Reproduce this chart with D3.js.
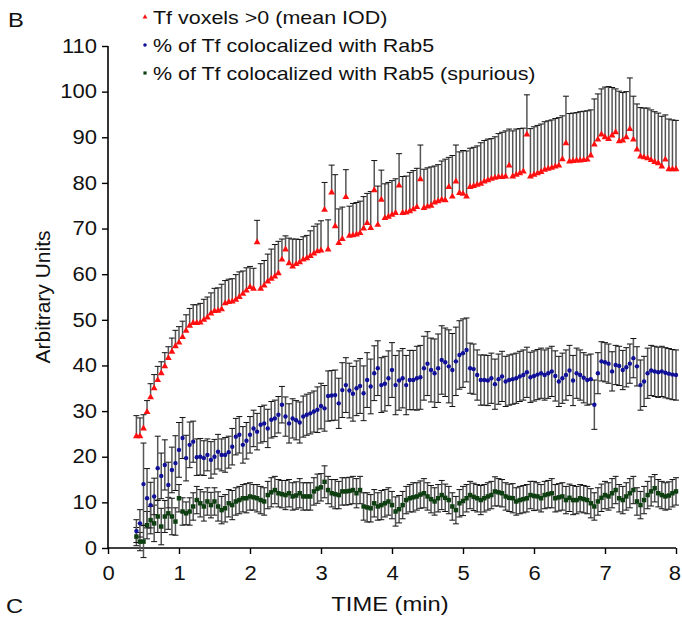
<!DOCTYPE html>
<html>
<head>
<meta charset="utf-8">
<script src="https://cdn.jsdelivr.net/npm/d3@7"></script>
<style>
  body { margin: 0; background: #fff; }
  svg { font-family: 'Liberation Sans', Arial, sans-serif; }
</style>
</head>
<body>
<div id="chart"></div>
<script>
// sampling: one frame every 0.05 min from 0.4 to 8 min
const tStart = 0.4
const tStep = 0.05

const xTicks = [0, 1, 2, 3, 4, 5, 6, 7, 8]
const yTicks = [0, 10, 20, 30, 40, 50, 60, 70, 80, 90, 100, 110]

const seriesNames = [
    'Tf voxels >0 (mean IOD)',
    '% of Tf colocalized with Rab5',
    '% of Tf colocalized with Rab5 (spurious)'
]

// Tf voxels >0 (mean IOD), upper error only
const tfMean = [
    24.5, 24.5, 26.2, 29.8, 33.0, 35.0, 36.8, 38.3, 39.8, 41.6,
    43.0, 44.2, 45.0, 46.2, 47.6, 48.7, 49.3, 49.3, 49.4, 50.0,
    50.5, 51.4, 51.9, 52.0, 52.3, 53.6, 53.9, 54.0, 54.4, 55.0,
    55.7, 56.4, 57.2, 56.8, 67.0, 56.8, 57.5, 58.4, 59.0, 59.5,
    60.2, 63.2, 65.4, 62.4, 61.7, 62.2, 62.6, 63.2, 63.5, 64.0,
    64.5, 65.0, 65.2, 74.1, 65.4, 77.9, 70.5, 66.8, 67.7, 76.9,
    68.4, 68.5, 68.7, 69.0, 70.0, 71.2, 70.1, 78.4, 70.8, 76.3,
    72.3, 72.6, 73.0, 73.4, 79.4, 73.4, 73.5, 73.8, 74.2, 74.7,
    80.8, 74.5, 74.8, 75.0, 75.7, 76.0, 76.3, 76.2, 79.1, 77.0,
    80.3, 77.8, 77.6, 77.0, 79.1, 79.3, 79.6, 79.8, 80.3, 80.6,
    80.9, 81.1, 81.3, 81.3, 81.4, 83.8, 81.4, 81.8, 82.1, 82.5,
    90.6, 81.4, 81.8, 82.1, 82.4, 82.9, 83.1, 83.3, 83.6, 83.8,
    85.2, 88.7, 84.7, 84.8, 84.9, 84.9, 85.0, 85.1, 86.0, 88.4,
    89.5, 90.6, 90.0, 89.6, 90.4, 91.1, 89.1, 89.3, 90.0, 91.8,
    89.5, 87.3, 85.8, 85.6, 85.4, 85.0, 84.6, 84.3, 83.6, 85.1,
    83.0, 83.0, 83.0
]
const tfErr = [
    4.5, 4.0, 3.0, 2.5, 3.0, 3.0, 3.0, 2.5, 3.0, 2.5,
    3.0, 3.5, 3.5, 3.5, 3.5, 3.8, 4.0, 4.0, 4.2, 4.5,
    4.5, 4.5, 5.0, 5.0, 5.5, 5.0, 5.0, 5.0, 5.5, 5.5,
    5.0, 5.0, 4.5, 4.5, 4.8, 5.5, 5.5, 6.0, 6.5, 7.0,
    7.0, 4.5, 3.0, 5.5, 6.0, 5.5, 5.0, 5.0, 5.0, 5.5,
    6.0, 6.0, 6.5, 6.0, 6.5, 6.0, 11.3, 7.5, 7.0, 6.0,
    6.5, 7.0, 7.0, 7.0, 7.0, 6.5, 8.0, 6.5, 8.5, 6.5,
    7.5, 7.5, 7.5, 7.5, 7.0, 8.0, 8.0, 8.5, 8.5, 8.5,
    7.5, 8.5, 8.5, 8.5, 8.0, 8.0, 8.5, 9.0, 6.5, 9.0,
    8.0, 9.0, 9.5, 10.0, 8.5, 8.5, 8.5, 9.0, 9.0, 9.0,
    8.8, 9.0, 9.5, 9.8, 10.0, 8.0, 10.0, 10.0, 9.8, 9.5,
    8.7, 10.5, 10.5, 10.5, 10.5, 10.5, 10.5, 10.5, 10.5, 10.5,
    9.5, 10.3, 10.5, 10.5, 10.5, 10.7, 10.7, 10.7, 10.0, 10.0,
    10.0, 10.0, 11.0, 11.5, 10.5, 9.5, 11.0, 10.5, 10.0, 11.2,
    9.5, 10.0, 10.7, 10.8, 11.0, 11.0, 11.0, 11.0, 11.0, 9.8,
    11.0, 10.8, 10.7
]

// % of Tf colocalized with Rab5
const rabMean = [
    3.7, 5.4, 14.0, 10.9, 9.4, 11.3, 17.5, 15.8, 18.2, 13.8,
    17.1, 18.6, 21.5, 24.1, 19.7, 22.6, 23.3, 19.9, 20.0, 19.7,
    20.4, 19.3, 20.0, 21.1, 20.4, 20.4, 21.0, 22.2, 24.4, 24.8,
    22.6, 23.5, 24.8, 26.2, 25.5, 27.0, 27.3, 26.2, 28.1, 28.4,
    29.2, 31.4, 28.8, 27.3, 28.4, 28.0, 27.5, 28.8, 29.2, 29.5,
    29.9, 30.3, 31.1, 30.6, 33.3, 33.4, 33.5, 31.7, 34.6, 35.7,
    34.5, 33.8, 35.0, 35.5, 33.9, 36.8, 35.4, 38.3, 39.4, 35.7,
    36.0, 37.2, 39.0, 35.7, 36.7, 37.2, 35.7, 36.8, 36.8, 37.2,
    37.4, 39.4, 40.4, 39.0, 38.3, 39.4, 41.2, 40.7, 39.8, 39.0,
    40.9, 42.3, 42.7, 43.4, 39.4, 39.2, 37.9, 36.8, 36.8, 36.7,
    37.2, 35.9, 37.0, 37.6, 36.5, 36.8, 37.0, 37.2, 37.6, 37.9,
    38.5, 37.4, 37.7, 38.0, 38.3, 37.9, 38.3, 38.7, 37.7, 36.5,
    37.2, 37.9, 38.9, 36.7, 38.3, 37.9, 37.3, 36.8, 37.0, 31.4,
    38.3, 40.9, 40.7, 40.4, 38.7, 40.1, 39.9, 39.0, 39.6, 40.4,
    41.6, 39.8, 35.7, 36.5, 38.3, 38.9, 38.7, 38.5, 38.7, 38.4,
    38.2, 38.0, 37.9
]
const rabErr = [
    2.5, 3.0, 9.0, 6.5, 5.0, 4.0, 7.0, 5.0, 5.5, 5.0,
    5.0, 6.0, 6.0, 4.5, 5.0, 5.0, 4.5, 4.0, 4.0, 3.8,
    3.5, 4.0, 3.8, 3.8, 3.5, 3.8, 3.5, 4.0, 4.0, 4.0,
    4.0, 4.0, 4.0, 4.0, 4.0, 4.0, 4.0, 4.2, 4.0, 4.0,
    4.0, 4.0, 4.3, 4.3, 4.3, 4.3, 4.5, 4.5, 4.5, 4.5,
    4.5, 5.0, 5.0, 5.0, 5.5, 5.5, 5.5, 5.5, 6.0, 6.0,
    6.0, 6.0, 6.0, 6.0, 6.0, 6.0, 6.0, 6.0, 6.0, 6.0,
    6.0, 6.0, 6.0, 6.5, 6.5, 6.5, 6.5, 6.5, 6.5, 7.0,
    7.0, 7.0, 7.0, 7.0, 7.5, 7.5, 7.5, 7.5, 8.0, 8.0,
    7.5, 7.5, 7.5, 7.0, 5.5, 5.5, 5.5, 5.5, 5.5, 5.5,
    5.5, 5.5, 5.5, 5.5, 5.5, 5.5, 5.5, 5.5, 5.5, 5.5,
    5.5, 5.5, 5.5, 5.5, 5.5, 5.5, 5.5, 5.5, 5.5, 5.5,
    5.5, 5.5, 5.5, 5.5, 5.5, 5.5, 5.5, 5.5, 5.5, 5.4,
    4.5, 4.3, 4.3, 4.3, 4.3, 4.3, 4.3, 4.3, 4.3, 4.3,
    4.3, 4.3, 5.5, 5.5, 5.5, 5.5, 5.5, 5.5, 5.5, 5.5,
    5.5, 5.5, 5.5
]

// % of Tf colocalized with Rab5 (spurious)
const spurMean = [
    2.5, 1.4, 1.4, 5.0, 6.1, 5.4, 6.9, 4.7, 6.9, 7.6,
    6.9, 5.8, 10.9, 8.0, 7.6, 8.0, 9.1, 10.5, 9.8, 9.1,
    10.2, 9.4, 10.2, 9.1, 8.3, 8.7, 9.8, 9.4, 10.2, 10.5,
    10.9, 10.9, 11.3, 11.1, 10.9, 10.5, 10.2, 11.6, 12.2, 12.7,
    12.0, 11.8, 11.6, 12.0, 11.3, 11.5, 12.0, 11.3, 11.3, 11.3,
    12.4, 13.0, 13.3, 14.5, 12.7, 12.0, 11.8, 11.6, 12.4, 12.4,
    12.5, 12.7, 12.0, 12.7, 9.1, 8.9, 8.7, 9.8, 9.1, 9.4,
    9.8, 10.2, 9.4, 8.0, 8.5, 9.4, 10.5, 10.9, 11.1, 11.3,
    11.7, 12.0, 11.3, 10.7, 10.2, 10.9, 11.6, 11.0, 10.5, 9.1,
    8.3, 9.8, 10.3, 10.9, 11.6, 11.2, 10.9, 10.5, 10.9, 11.3,
    11.6, 12.4, 12.2, 12.0, 11.3, 11.0, 10.9, 10.2, 10.5, 10.7,
    10.9, 11.6, 11.4, 11.3, 10.9, 11.6, 11.8, 12.0, 10.9, 11.1,
    11.3, 10.5, 11.0, 10.5, 10.5, 10.9, 10.7, 10.5, 9.8, 9.1,
    10.2, 11.0, 11.6, 11.3, 12.0, 12.7, 10.9, 10.5, 11.3, 12.0,
    12.7, 10.2, 9.4, 10.5, 11.6, 12.4, 13.1, 12.0, 11.6, 11.3,
    11.5, 12.0, 12.4
]
const spurErr = [
    2.0, 2.0, 3.5, 3.0, 3.0, 4.0, 3.5, 4.0, 3.5, 3.5,
    4.0, 3.0, 3.0, 3.0, 2.5, 3.0, 3.0, 3.0, 3.0, 3.2,
    3.0, 2.8, 3.0, 3.2, 3.0, 3.0, 3.0, 3.2, 3.0, 3.0,
    3.0, 3.2, 3.0, 2.8, 3.0, 3.0, 3.0, 3.0, 3.2, 3.0,
    3.0, 3.0, 3.2, 3.0, 3.0, 3.0, 3.2, 3.0, 3.0, 3.0,
    3.0, 3.2, 3.0, 3.5, 3.0, 3.0, 3.2, 3.0, 3.0, 3.0,
    3.0, 3.0, 3.2, 3.0, 3.0, 3.2, 3.0, 3.0, 3.0, 3.2,
    3.0, 3.0, 3.0, 3.2, 3.0, 3.0, 3.0, 3.0, 3.2, 3.0,
    3.0, 3.2, 3.0, 3.0, 3.0, 3.0, 3.2, 3.0, 3.0, 3.0,
    3.0, 3.0, 3.2, 3.0, 3.0, 3.0, 3.0, 3.2, 3.0, 3.0,
    3.0, 3.2, 3.0, 3.0, 3.0, 3.0, 3.2, 3.0, 3.0, 3.0,
    3.0, 3.0, 3.2, 3.0, 3.0, 3.0, 3.0, 3.2, 3.0, 3.0,
    3.0, 3.0, 3.0, 3.2, 3.0, 3.0, 3.0, 3.0, 3.2, 3.0,
    3.0, 3.0, 3.0, 3.0, 3.2, 3.0, 3.0, 3.0, 3.0, 3.2,
    3.0, 3.0, 3.0, 3.0, 3.0, 3.2, 3.0, 3.0, 3.0, 3.0,
    3.0, 3.0, 3.0
]

const width = 682
const height = 620
const margin = {top: 46, right: 6, bottom: 72, left: 108}
// the lettering in the figure is a little wider than Arial
const stretch = 1.13

const svg = d3.select('#chart').append('svg')
    .attr('width', width)
    .attr('height', height)

const x = d3.scaleLinear().domain([0, 8]).range([margin.left, width - margin.right])
const y = d3.scaleLinear().domain([0, 110]).range([height - margin.bottom, margin.top])

const times = tfMean.map((d, i) => tStart + i * tStep)

function toRows(means, errs) {
    return means.map((m, i) => ({t: times[i], v: m, e: errs[i]}))
}
const tfData = toRows(tfMean, tfErr)
const rabData = toRows(rabMean, rabErr)
const spurData = toRows(spurMean, spurErr)

// put wide text at (px, py)
function wideText(px, py, size) {
    return svg.append('text')
        .attr('x', px / stretch)
        .attr('y', py)
        .attr('transform', 'scale(' + stretch + ',1)')
        .attr('fill', '#111')
        .style('font-size', size + 'px')
}

// axes
const yAxis = svg.append('g')
    .attr('transform', 'translate(' + margin.left + ',0)')
    .call(d3.axisLeft(y).tickValues(yTicks).tickSize(6).tickPadding(5))
const xAxis = svg.append('g')
    .attr('transform', 'translate(0,' + (height - margin.bottom) + ')')
    .call(d3.axisBottom(x).tickValues(xTicks).tickSize(6).tickPadding(12))

svg.selectAll('.domain').attr('stroke', '#000').attr('stroke-width', 1.6)
yAxis.select('.domain').attr('d', 'M0,' + y(110) + 'V' + y(0))
xAxis.select('.domain').attr('d', 'M' + x(0) + ',0H' + x(8))
svg.selectAll('.tick line').attr('stroke', '#000').attr('stroke-width', 1.4)
svg.selectAll('.tick text')
    .attr('fill', '#111')
    .attr('transform', 'scale(' + stretch + ',1)')
    .style('font-size', '19.5px')
yAxis.selectAll('.tick text').attr('x', -11 / stretch)
// last label sits against the right edge
xAxis.selectAll('.tick text').filter(d => d === 8).attr('x', -1.5)

// error bars
function drawErrors(data, upperOnly) {
    const g = svg.append('g')
    const half = 3
    data.forEach(d => {
        const top = y(d.v + d.e)
        const bot = upperOnly ? y(d.v) : y(d.v - d.e)
        g.append('line')
            .attr('x1', x(d.t)).attr('x2', x(d.t))
            .attr('y1', top).attr('y2', bot)
            .attr('stroke', '#555')
            .attr('stroke-width', 1.5)
        g.append('line')
            .attr('x1', x(d.t) - half).attr('x2', x(d.t) + half)
            .attr('y1', top).attr('y2', top)
            .attr('stroke', '#111')
            .attr('stroke-width', 1)
        if (!upperOnly) {
            g.append('line')
                .attr('x1', x(d.t) - half).attr('x2', x(d.t) + half)
                .attr('y1', bot).attr('y2', bot)
                .attr('stroke', '#111')
                .attr('stroke-width', 1)
        }
    })
}
drawErrors(spurData, false)
drawErrors(rabData, false)
drawErrors(tfData, true)

// markers
const tri = d3.symbol().type(d3.symbolTriangle).size(20)
const sq = d3.symbol().type(d3.symbolSquare).size(20)

svg.append('g').selectAll('path')
    .data(spurData)
    .enter()
    .append('path')
    .attr('d', sq)
    .attr('transform', d => 'translate(' + x(d.t) + ',' + y(d.v) + ')')
    .attr('fill', '#0d3f10')

svg.append('g').selectAll('circle')
    .data(rabData)
    .enter()
    .append('circle')
    .attr('cx', d => x(d.t))
    .attr('cy', d => y(d.v))
    .attr('r', 2.2)
    .attr('fill', '#10109a')

svg.append('g').selectAll('path')
    .data(tfData)
    .enter()
    .append('path')
    .attr('d', tri)
    .attr('transform', d => 'translate(' + x(d.t) + ',' + y(d.v) + ')')
    .attr('fill', '#ff1010')

// legend
const legendColors = ['#ff1010', '#10109a', '#0d3f10']
const legendSymbols = [d3.symbolTriangle, d3.symbolCircle, d3.symbolSquare]
seriesNames.forEach((name, i) => {
    const cy = 17 + i * 28
    svg.append('path')
        .attr('d', d3.symbol().type(legendSymbols[i]).size(10))
        .attr('transform', 'translate(145,' + cy + ')')
        .attr('fill', legendColors[i])
    wideText(153, cy, 19)
        .attr('dy', '0.35em')
        .text(name)
})

// labels
svg.append('text')
    .attr('transform', 'translate(50,' + ((y(0) + y(110)) / 2) + ') rotate(-90)')
    .attr('text-anchor', 'middle')
    .attr('fill', '#111')
    .style('font-size', '21px')
    .text('Arbitrary Units')

wideText(390, 611, 21)
    .attr('text-anchor', 'middle')
    .text('TIME (min)')

wideText(8, 27, 21).text('B')
wideText(6, 613, 21).text('C')
</script>
</body>
</html>
